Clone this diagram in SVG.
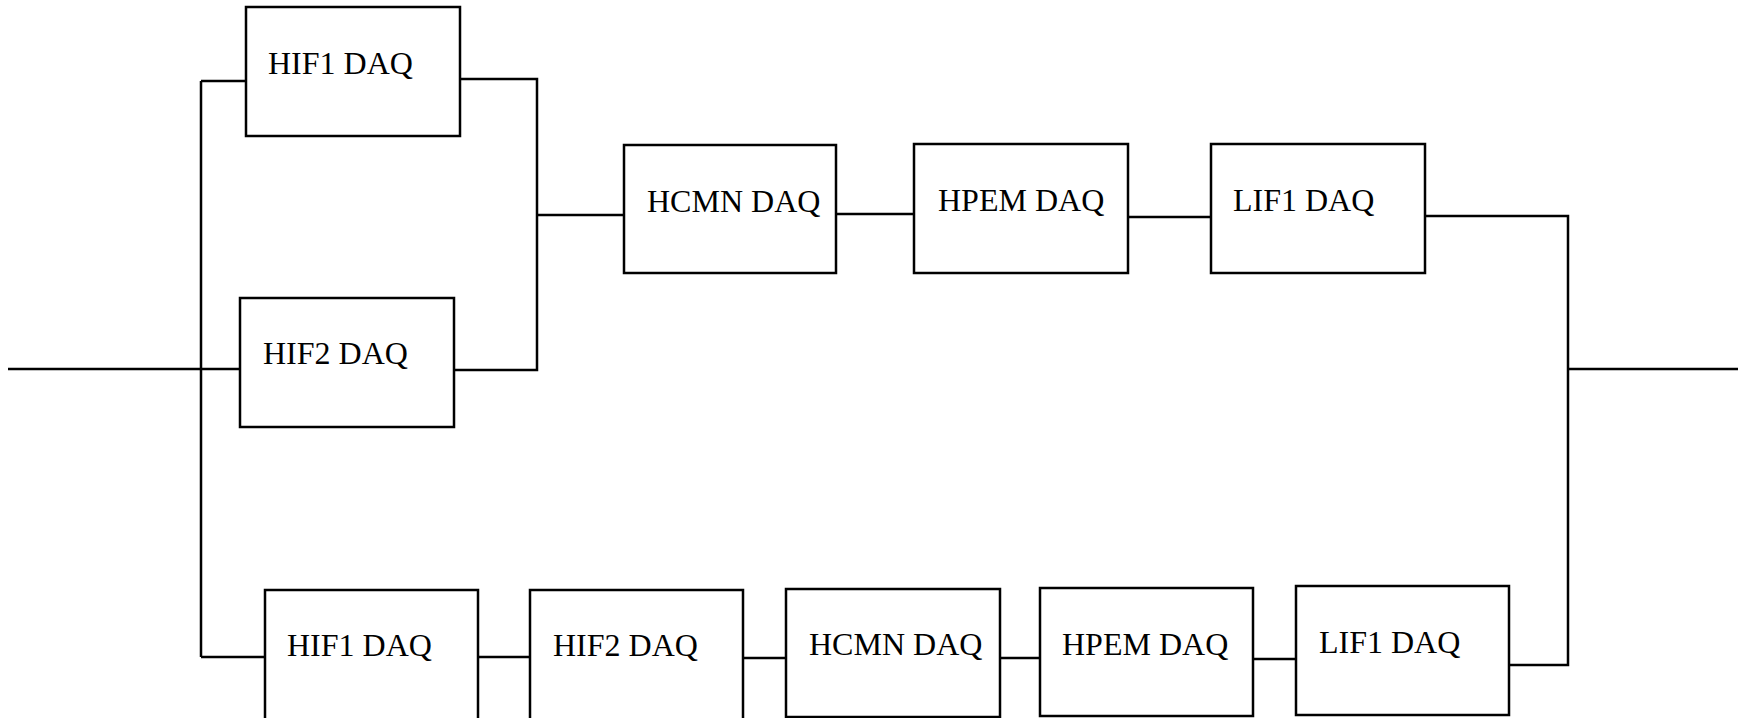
<svg xmlns="http://www.w3.org/2000/svg" width="1739" height="718" viewBox="0 0 1739 718">
<style>
.box{fill:#fff;stroke:#000;stroke-width:2.5}
.lbl{font-family:"Liberation Serif","Times New Roman",serif;font-size:32px;fill:#000}
.conn{fill:none;stroke:#000;stroke-width:2.5}
</style>
<rect width="1739" height="718" fill="#fff"/>
<g id="connectors" class="conn">
<path d="M8 369 H240"/>
<path d="M201 81 V657"/>
<path d="M201 81 H246"/>
<path d="M201 657 H265"/>
<path d="M460 79 H537 V370 H454"/>
<path d="M537 215 H624"/>
<path d="M836 214 H914"/>
<path d="M1128 217 H1211"/>
<path d="M1425 216 H1568 V665 H1509"/>
<path d="M1568 369 H1738"/>
<path d="M478 657 H530"/>
<path d="M743 658 H786"/>
<path d="M1000 658 H1040"/>
<path d="M1253 659 H1296"/>
</g>
<g id="top_hif1"><rect class="box" x="246" y="7" width="214" height="129"/><text class="lbl" x="268" y="74">HIF1 DAQ</text></g>
<g id="top_hif2"><rect class="box" x="240" y="298" width="214" height="129"/><text class="lbl" x="263" y="364">HIF2 DAQ</text></g>
<g id="top_hcmn"><rect class="box" x="624" y="145" width="212" height="128"/><text class="lbl" x="647" y="212">HCMN DAQ</text></g>
<g id="top_hpem"><rect class="box" x="914" y="144" width="214" height="129"/><text class="lbl" x="938" y="211">HPEM DAQ</text></g>
<g id="top_lif1"><rect class="box" x="1211" y="144" width="214" height="129"/><text class="lbl" x="1233" y="211">LIF1 DAQ</text></g>
<g id="bot_hif1"><rect class="box" x="265" y="590" width="213" height="140"/><text class="lbl" x="287" y="656">HIF1 DAQ</text></g>
<g id="bot_hif2"><rect class="box" x="530" y="590" width="213" height="140"/><text class="lbl" x="553" y="656">HIF2 DAQ</text></g>
<g id="bot_hcmn"><rect class="box" x="786" y="589" width="214" height="128"/><text class="lbl" x="809" y="655">HCMN DAQ</text></g>
<g id="bot_hpem"><rect class="box" x="1040" y="588" width="213" height="128"/><text class="lbl" x="1062" y="655">HPEM DAQ</text></g>
<g id="bot_lif1"><rect class="box" x="1296" y="586" width="213" height="129"/><text class="lbl" x="1319" y="653">LIF1 DAQ</text></g>
</svg>
